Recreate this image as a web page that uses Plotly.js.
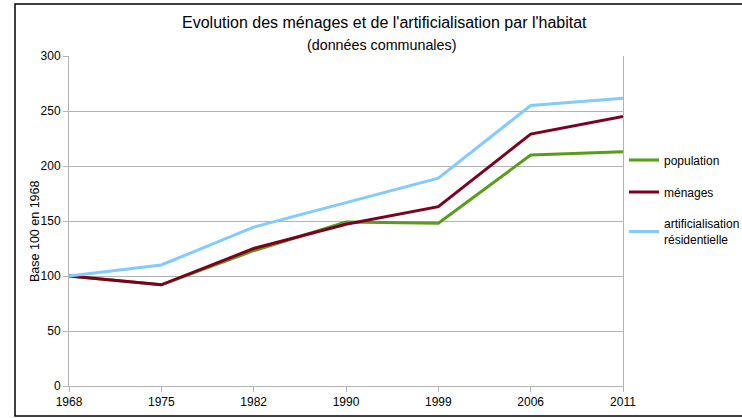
<!DOCTYPE html>
<html>
<head>
<meta charset="utf-8">
<script src="https://cdn.plot.ly/plotly-3.0.1.min.js"></script>
<style>
html,body{margin:0;padding:0;background:#fff;}
#chart{width:742px;height:418px;}
</style>
</head>
<body>
<div id="chart"></div>
<script>
const years = ['1968','1975','1982','1990','1999','2006','2011'];
const population = [100, 92, 123, 149, 148, 210, 213];
const menages = [100, 92, 125, 147, 163, 229, 245];
const artificialisation = [100, 110, 144.5, 167, 189, 255, 261.5];
const seriesNames = ['population', 'ménages', 'artificialisation<br>résidentielle'];
const seriesColors = ['#579d1c', '#7e0021', '#83caff'];
const yTicks = [0, 50, 100, 150, 200, 250, 300];

const allValues = [population, menages, artificialisation];
const traces = allValues.map((v, i) => ({
  x: years, y: v, type: 'scatter', mode: 'lines',
  name: seriesNames[i], legendgroup: 'g' + i,
  line: {color: seriesColors[i], width: 3}
}));

const font = {family: 'Liberation Sans, Arial, sans-serif', color: '#000'};
const layout = {
  width: 742, height: 418,
  margin: {l: 69, r: 119, t: 56, b: 32, autoexpand: false},
  paper_bgcolor: '#fff', plot_bgcolor: '#fff',
  font: Object.assign({size: 12}, font),
  showlegend: true,
  legend: {x: (624 - 69) / 554, y: 0.729, xanchor: 'left', yanchor: 'top',
    font: {size: 12, family: font.family, color: '#000'},
    traceorder: 'grouped', tracegroupgap: 13, itemwidth: 30, bgcolor: 'rgba(0,0,0,0)'},
  xaxis: {type: 'category', range: [0, 6], showgrid: false,
    showline: true, linecolor: '#b3b3b3', linewidth: 1, mirror: false,
    ticks: 'outside', ticklen: 5, tickcolor: '#b3b3b3',
    tickfont: {size: 12, family: font.family, color: '#000'}, fixedrange: true},
  yaxis: {range: [0, 300], tickvals: yTicks, showgrid: true, gridcolor: '#b3b3b3',
    showline: true, linecolor: '#b3b3b3', linewidth: 1, mirror: true,
    ticks: 'outside', ticklen: 5, tickcolor: '#b3b3b3', zeroline: false,
    tickfont: {size: 12, family: font.family, color: '#000'}},
  annotations: [
    {text: "Evolution des ménages et de l'artificialisation par l'habitat", xref: 'paper', yref: 'paper',
     x: (384 - 69) / 554, y: (386 - 22) / 330, xanchor: 'center', yanchor: 'middle', showarrow: false,
     font: {size: 16, family: font.family, color: '#000'}},
    {text: '(données communales)', xref: 'paper', yref: 'paper',
     x: (381 - 69) / 554, y: (386 - 45) / 330, xanchor: 'center', yanchor: 'middle', showarrow: false,
     font: {size: 14.3, family: font.family, color: '#000'}},
    {text: 'Base 100 en 1968', xref: 'paper', yref: 'paper', textangle: -90,
     x: (35 - 69) / 554, y: (386 - 231) / 330, xanchor: 'center', yanchor: 'middle', showarrow: false,
     font: {size: 12.5, family: font.family, color: '#000'}}
  ],
  shapes: [
    {type: 'rect', xref: 'paper', yref: 'paper',
     x0: (15 - 69) / 554, x1: (760 - 69) / 554, y0: (386 - 416) / 330, y1: (386 - 4) / 330,
     line: {color: '#000', width: 1.5}, fillcolor: 'rgba(0,0,0,0)'}
  ]
};
Plotly.newPlot('chart', traces, layout, {staticPlot: true});
</script>
</body>
</html>
